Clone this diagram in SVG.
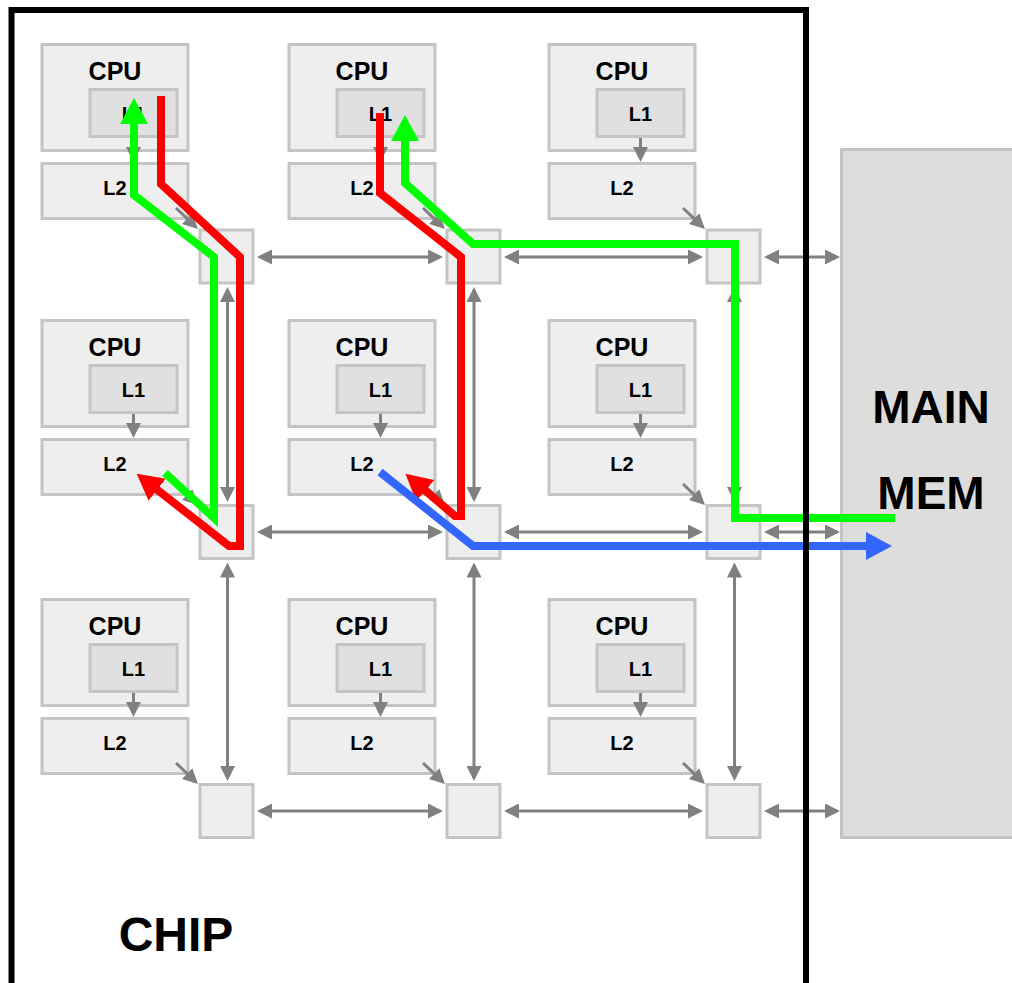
<svg xmlns="http://www.w3.org/2000/svg" width="1012" height="983" viewBox="0 0 1012 983">
<style>
.box{fill:#eeeeee;stroke:#c4c4c4;stroke-width:3}
.l1{fill:#e0e0e0;stroke:#c4c4c4;stroke-width:3}
.rt{fill:#eeeeee;stroke:#c4c4c4;stroke-width:3}
.t{font-family:"Liberation Sans",Arial,sans-serif;font-weight:bold;fill:#000;text-anchor:middle}
.cpu{font-size:25px}
.lc{font-size:20px}
.g{fill:none;stroke:#808080;stroke-width:3}
.gs{marker-end:url(#ga)}
.gd{marker-start:url(#ga);marker-end:url(#ga)}
.path{fill:none;stroke-width:8;stroke-linejoin:miter}
</style>
<defs>
<marker id="ga" viewBox="0 0 15 15" refX="12" refY="7.5" markerWidth="15" markerHeight="15" markerUnits="userSpaceOnUse" orient="auto-start-reverse"><path d="M0,0 L15,7.5 L0,15 z" fill="#808080"/></marker>
<marker id="ar" viewBox="0 0 26 28" refX="1" refY="14" markerWidth="26" markerHeight="28" markerUnits="userSpaceOnUse" orient="auto"><path d="M0,0 L26,14 L0,28 z" fill="#ff0000"/></marker>
<marker id="ag" viewBox="0 0 26 28" refX="1" refY="14" markerWidth="26" markerHeight="28" markerUnits="userSpaceOnUse" orient="auto"><path d="M0,0 L26,14 L0,28 z" fill="#00ff00"/></marker>
<marker id="ab" viewBox="0 0 26 28" refX="1" refY="14" markerWidth="26" markerHeight="28" markerUnits="userSpaceOnUse" orient="auto"><path d="M0,0 L26,14 L0,28 z" fill="#3366ff"/></marker>
<g id="tile">
<rect class="box" x="0" y="0" width="146" height="106"/>
<rect class="l1" x="48" y="45" width="87" height="47"/>
<rect class="box" x="0" y="119" width="146" height="55"/>
<text class="t cpu" x="73" y="35.5">CPU</text>
<text class="t lc" x="91.5" y="76">L1</text>
<text class="t lc" x="73" y="150.5">L2</text>
<path class="g gs" d="M91.5,93.5 L91.5,114.5"/>
<path class="g gs" d="M134,163.5 L153.8,182.4"/>
</g>
</defs>

<g id="mainmem">
<rect x="841.5" y="149.5" width="200" height="688" fill="#dddddd" stroke="#c4c4c4" stroke-width="3"/>
<text class="t" x="931" y="423" font-size="46">MAIN</text>
<text class="t" x="931" y="509" font-size="46">MEM</text>
</g>

<g id="tile-1-1"><use href="#tile" x="42" y="44.5"/></g>
<g id="tile-1-2"><use href="#tile" x="289" y="44.5"/></g>
<g id="tile-1-3"><use href="#tile" x="549" y="44.5"/></g>
<g id="tile-2-1"><use href="#tile" x="42" y="320.5"/></g>
<g id="tile-2-2"><use href="#tile" x="289" y="320.5"/></g>
<g id="tile-2-3"><use href="#tile" x="549" y="320.5"/></g>
<g id="tile-3-1"><use href="#tile" x="42" y="599.5"/></g>
<g id="tile-3-2"><use href="#tile" x="289" y="599.5"/></g>
<g id="tile-3-3"><use href="#tile" x="549" y="599.5"/></g>

<g id="router-1-1"><rect class="rt" x="200" y="230" width="53" height="53"/></g>
<g id="router-1-2"><rect class="rt" x="447" y="230" width="53" height="53"/></g>
<g id="router-1-3"><rect class="rt" x="707" y="230" width="53" height="53"/></g>
<g id="router-2-1"><rect class="rt" x="200" y="505.5" width="53" height="53"/></g>
<g id="router-2-2"><rect class="rt" x="447" y="505.5" width="53" height="53"/></g>
<g id="router-2-3"><rect class="rt" x="707" y="505.5" width="53" height="53"/></g>
<g id="router-3-1"><rect class="rt" x="200" y="784.5" width="53" height="53"/></g>
<g id="router-3-2"><rect class="rt" x="447" y="784.5" width="53" height="53"/></g>
<g id="router-3-3"><rect class="rt" x="707" y="784.5" width="53" height="53"/></g>

<g id="connectors">
<path class="g gd" d="M260,257 L440,257"/>
<path class="g gd" d="M507,257 L700,257"/>
<path class="g gd" d="M767,257 L837,257"/>
<path class="g gd" d="M260,532 L440,532"/>
<path class="g gd" d="M507,532 L700,532"/>
<path class="g gd" d="M767,532 L837,532"/>
<path class="g gd" d="M260,811 L440,811"/>
<path class="g gd" d="M507,811 L700,811"/>
<path class="g gd" d="M767,811 L837,811"/>
<path class="g gd" d="M227.5,290 L227.5,499"/>
<path class="g gd" d="M474,290 L474,499"/>
<path class="g gd" d="M734.5,290 L734.5,499"/>
<path class="g gd" d="M227.5,565.5 L227.5,778"/>
<path class="g gd" d="M474,565.5 L474,778"/>
<path class="g gd" d="M734.5,565.5 L734.5,778"/>
</g>

<g id="flows">
<path class="path" stroke="#ff0000" d="M161,96 L161,184 L240,257 L240,546 L229,546 L156.4,489.1" marker-end="url(#ar)"/>
<path class="path" stroke="#00ff00" d="M165,473 L214,518 L214,257 L134,195 L134,123" marker-end="url(#ag)"/>
<path class="path" stroke="#ff0000" d="M380,113 L380,193 L461,257 L461,516 L455,516 L424.5,490" marker-end="url(#ar)"/>
<path class="path" stroke="#00ff00" d="M895,518 L735,518 L735,244 L473,244 L405,183 L405,140" marker-end="url(#ag)"/>
<path class="path" stroke="#3366ff" d="M380,472 L473,546 L867,546" marker-end="url(#ab)"/>
</g>

<g id="chip">
<rect x="11.5" y="10" width="794.5" height="1000" fill="none" stroke="#000" stroke-width="6"/>
<text class="t" x="176" y="951" font-size="48">CHIP</text>
</g>
</svg>
